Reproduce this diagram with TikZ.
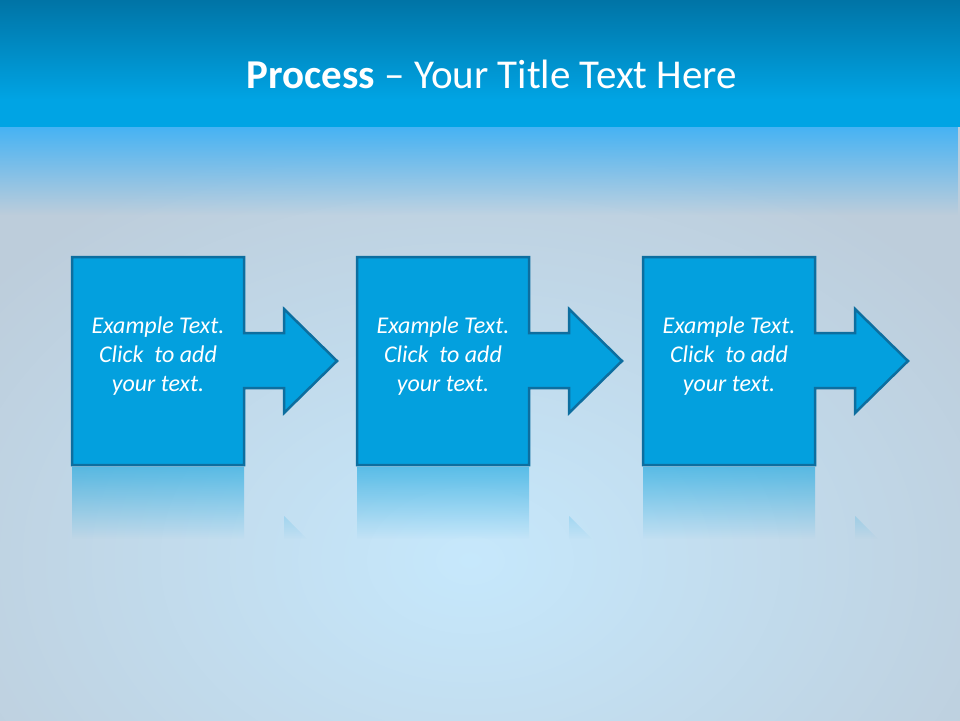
\documentclass[tikz,border=0pt]{standalone}
\usepackage{fontspec}
\setmainfont{Carlito}
\usetikzlibrary{calc}
\usetikzlibrary{fadings}
\definecolor{barTop}{HTML}{0074A6}
\definecolor{barBottom}{HTML}{00A4E4}
\definecolor{glowBlue}{HTML}{46B3F4}
\definecolor{baseGrey}{HTML}{BDCDDB}
\definecolor{centreGlow}{HTML}{C6E8FC}
\definecolor{stepFill}{HTML}{03A0DE}
\definecolor{stepLine}{HTML}{0D6E9F}
\tikzfading[name=fadedown,top color=transparent!0,bottom color=transparent!100]
\tikzfading[name=mirrorfade,top color=transparent!45,bottom color=transparent!100]
\tikzset{stepshape/.style={fill=stepFill,draw=stepLine,line width=2.5pt,line join=miter}}
\tikzset{mirror/.style={fill=stepFill,path fading=mirrorfade}}
\tikzset{steptext/.style={text=white,align=center,font=\fontsize{24}{29}\selectfont\itshape}}
\tikzset{titletext/.style={text=white,font=\fontsize{41}{49}\selectfont}}

% Kasten mit Pfeil und seiner Spiegelung, um einen Mittelpunkt
\newcommand{\steparrow}[1]{%
	\draw [stepshape] ($(#1)+(-86,-104)$) -- ($(#1)+(86,-104)$) --
		($(#1)+(86,-28)$) -- ($(#1)+(126,-28)$) -- ($(#1)+(126,-52)$) --
		($(#1)+(179,0)$) -- ($(#1)+(126,52)$) -- ($(#1)+(126,27)$) --
		($(#1)+(86,27)$) -- ($(#1)+(86,104)$) -- ($(#1)+(-86,104)$) -- cycle;
	\fill [mirror] ($(#1)+(-86,106)$) rectangle ($(#1)+(86,178)$)
		($(#1)+(126,155)$) -- ($(#1)+(126,178)$) -- ($(#1)+(149,178)$) -- cycle;
}

\begin{document}
\begin{tikzpicture}[x=1pt,y=-1pt]
	\useasboundingbox (0,0) rectangle (960,720);

	% Hintergrund
	\fill [baseGrey] (0,0) rectangle (960,720);
	\begin{scope}
		\clip (0,127) rectangle (960,720);
		\shade [inner color=centreGlow,outer color=baseGrey] (-150,120) rectangle (1090,1000);
		\fill [glowBlue,path fading=fadedown] (0,127) rectangle (960,215);
	\end{scope}

	% Titelleiste
	\shade [top color=barTop,bottom color=barBottom] (0,0) rectangle (960,100);
	\fill [barBottom] (0,99) rectangle (960,127);
	\node [titletext,anchor=base] (title) at (492,88) {\textbf{Process} – Your Title Text Here};

	% Die drei Schritte
	\coordinate (c1) at (158,361);
	\coordinate (c2) at (443,361);
	\coordinate (c3) at (729,361);
	\steparrow{c1}
	\steparrow{c2}
	\steparrow{c3}
	\node [steptext] (s1) at ($(c1)+(0,-5)$) {Example Text.\\Click\ \ to add\\your text.};
	\node [steptext] (s2) at ($(c2)+(0,-5)$) {Example Text.\\Click\ \ to add\\your text.};
	\node [steptext] (s3) at ($(c3)+(0,-5)$) {Example Text.\\Click\ \ to add\\your text.};

\end{tikzpicture}
\end{document}
